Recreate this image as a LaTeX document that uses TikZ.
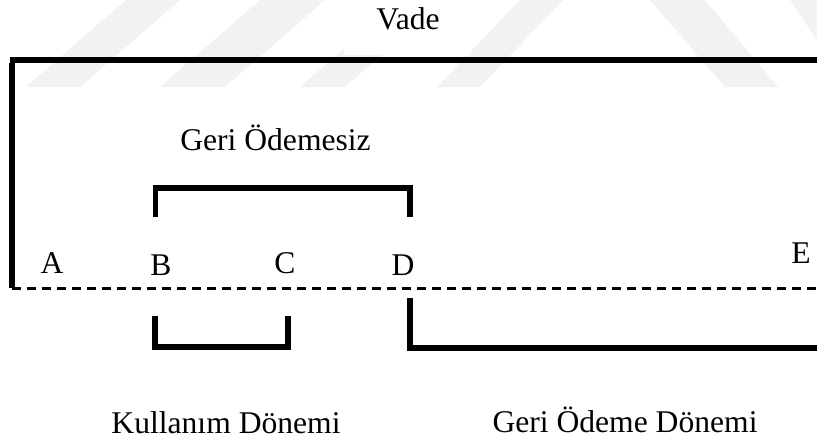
\documentclass[tikz,border=0pt]{standalone}
\usepackage{fontspec}
\setmainfont{Liberation Serif}
\begin{document}
\begin{tikzpicture}[x=0.5pt,y=-0.5pt,
  lbl/.style={font=\fontsize{15.8}{19}\selectfont, inner sep=0pt, anchor=base},
  bar/.style={line width=2.8pt, line cap=butt, line join=miter},
  axis/.style={line width=1.5pt, dash pattern=on 4.5pt off 3pt},
  wm/.style={fill=black!5, draw=none}]
\useasboundingbox (0,0) rectangle (817,445);

% faint background bands
\fill[wm] (26,87) -- (80,87) -- (180,0) -- (126,0) -- cycle;
\fill[wm] (160,87) -- (225,87) -- (325,0) -- (260,0) -- cycle;
\fill[wm] (300,87) -- (345,87) -- (445,0) -- (400,0) -- cycle;
\fill[wm] (437,87) -- (480,87) -- (563,0) -- (520,0) -- cycle;
\fill[wm] (650,0) -- (705,0) -- (778,87) -- (725,87) -- cycle;
\fill[wm] (790,0) -- (817,0) -- (817,40) -- cycle;
\fill[white] (344,0) rectangle (471,55);

% overall term: top bar, left edge and time axis
\coordinate (tl) at (10,60);
\coordinate (tr) at (817,60);
\coordinate (vl) at (12,63);
\coordinate (al) at (12,288);
\coordinate (ar) at (817,288);
\draw[line width=3pt] (tl) -- (tr);
\draw[line width=2.6pt] (vl) -- (al);
\draw[axis] (al) -- (ar);

% grace period bracket (B to D, above the axis)
\coordinate (g1) at (155.5,217);
\coordinate (g2) at (155.5,188);
\coordinate (g3) at (410,188);
\coordinate (g4) at (410,217);
\draw[bar] (g1) -- (g2) -- (g3) -- (g4);

% usage period bracket (B to C, below the axis)
\coordinate (u1) at (155,316);
\coordinate (u2) at (155,347);
\coordinate (u3) at (288,347);
\coordinate (u4) at (288,316);
\draw[bar] (u1) -- (u2) -- (u3) -- (u4);

% repayment period bracket (D onwards)
\coordinate (r1) at (410,298);
\coordinate (r2) at (410,348);
\coordinate (r3) at (817,348);
\draw[bar] (r1) -- (r2) -- (r3);

% labels
\node[lbl] (vade) at (408,29) {Vade};
\node[lbl] (gos) at (275.5,150) {Geri Ödemesiz};
\node[lbl] (A) at (52,273) {A};
\node[lbl] (B) at (161,275) {B};
\node[lbl] (C) at (285,273) {C};
\node[lbl] (D) at (403,275) {D};
\node[lbl] (E) at (801,263) {E};
\node[lbl] (kd) at (226,433) {Kullanım Dönemi};
\node[lbl] (gd) at (625,432) {Geri Ödeme Dönemi};
\end{tikzpicture}
\end{document}
